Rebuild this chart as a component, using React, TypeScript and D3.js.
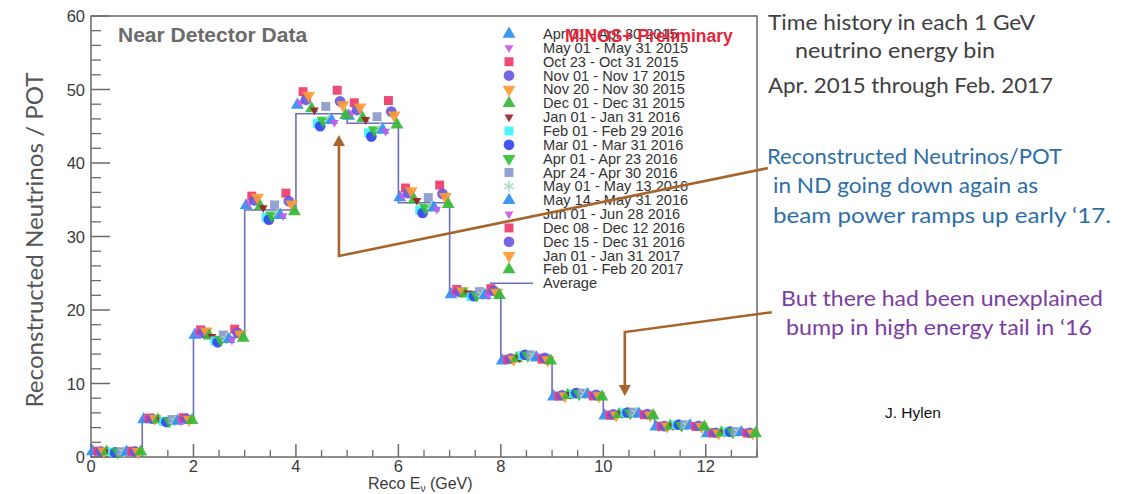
import React from "react";
import * as d3 from "d3";

const W = 1137;
const H = 494;

// Bin lower edges (GeV), 1 GeV bins
const binLow = [0, 1, 2, 3, 4, 5, 6, 7, 8, 9, 10, 11, 12];
const average = [0.7, 5.0, 16.3, 33.6, 46.7, 45.4, 34.6, 22.2, 13.4, 8.4, 5.8, 4.2, 3.3];

const periods = [
  "Apr 01 - Apr 30 2015",
  "May 01 - May 31 2015",
  "Oct 23 - Oct 31 2015",
  "Nov 01 - Nov 17 2015",
  "Nov 20 - Nov 30 2015",
  "Dec 01 - Dec 31 2015",
  "Jan 01 - Jan 31 2016",
  "Feb 01 - Feb 29 2016",
  "Mar 01 - Mar 31 2016",
  "Apr 01 - Apr 23 2016",
  "Apr 24 - Apr 30 2016",
  "May 01 - May 13 2016",
  "May 14 - May 31 2016",
  "Jun 01 - Jun 28 2016",
  "Dec 08 - Dec 12 2016",
  "Dec 15 - Dec 31 2016",
  "Jan 01 - Jan 31 2017",
  "Feb 01 - Feb 20 2017",
];

const colors = [
  "#2f8ff0", "#c45ae8", "#ee3a6a", "#6a58dc", "#ff9a33", "#35b835",
  "#9c1f2a", "#3ef2f5", "#3447ee", "#33c236", "#8a9acb", "#a8d8c8",
  "#2f8ff0", "#c45ae8", "#ee3a6a", "#6a58dc", "#ff9a33", "#35b835",
];

const shapes = [
  "up", "downSmall", "square", "circle", "down", "up",
  "downSmall", "square", "circle", "down", "square", "star",
  "up", "downSmall", "square", "circle", "down", "up",
];

const s0 = [0.75, 5.1, 16.6, 34.2, 47.9, 46.4, 35.3, 22.1, 13.1, 8.2, 5.6, 4.1, 3.2];
const s1 = [0.72, 5.2, 16.8, 34.5, 48.2, 46.8, 35.5, 22.3, 13.2, 8.3, 5.7, 4.1, 3.2];
const s2 = [0.8, 5.3, 17.3, 35.5, 49.7, 48.2, 36.6, 22.8, 13.3, 8.3, 5.7, 4.2, 3.3];
const s3 = [0.74, 5.2, 17.0, 34.9, 48.6, 47.2, 35.9, 22.5, 13.4, 8.4, 5.8, 4.2, 3.3];
const s4 = [0.78, 5.25, 17.1, 35.3, 49.2, 47.6, 36.2, 22.6, 13.3, 8.3, 5.7, 4.2, 3.25];
const s5 = [0.7, 5.05, 16.5, 34.1, 47.4, 46.1, 35.0, 22.2, 13.4, 8.4, 5.8, 4.2, 3.3];
const s6 = [0.7, 5.05, 16.4, 33.9, 47.2, 45.9, 34.9, 22.3, 13.5, 8.5, 5.9, 4.25, 3.35];
const s7 = [0.66, 4.85, 15.8, 32.6, 45.4, 44.1, 33.6, 21.8, 13.8, 8.6, 6.0, 4.35, 3.4];
const s8 = [0.62, 4.75, 15.6, 32.3, 45.0, 43.6, 33.2, 21.9, 13.9, 8.7, 6.05, 4.4, 3.45];
const s9 = [0.68, 4.9, 16.0, 32.9, 45.8, 44.5, 33.9, 22.0, 13.8, 8.6, 6.0, 4.3, 3.4];
const s10 = [0.72, 5.1, 16.6, 34.3, 47.7, 46.3, 35.3, 22.5, 13.9, 8.7, 6.1, 4.4, 3.45];
const s11 = [0.69, 4.92, 16.1, 33.1, 46.0, 44.7, 34.1, 22.1, 13.8, 8.6, 6.0, 4.3, 3.4];
const s12 = [0.68, 4.9, 16.0, 32.9, 45.8, 44.5, 33.9, 22.0, 13.5, 8.5, 5.85, 4.25, 3.35];
const s13 = [0.67, 4.88, 15.9, 32.8, 45.5, 44.3, 33.7, 22.0, 13.7, 8.55, 5.9, 4.3, 3.35];
const s14 = [0.8, 5.35, 17.4, 35.9, 49.9, 48.5, 37.0, 22.9, 13.3, 8.3, 5.75, 4.15, 3.25];
const s15 = [0.74, 5.2, 16.9, 34.8, 48.4, 47.0, 35.8, 22.6, 13.5, 8.45, 5.85, 4.25, 3.3];
const s16 = [0.72, 5.1, 16.7, 34.4, 47.9, 46.5, 35.4, 22.4, 13.2, 8.3, 5.7, 4.15, 3.25];
const s17 = [0.7, 4.98, 16.2, 33.4, 46.5, 45.2, 34.4, 22.0, 13.1, 8.2, 5.65, 4.1, 3.2];
const seriesValues = [s0, s1, s2, s3, s4, s5, s6, s7, s8, s9, s10, s11, s12, s13, s14, s15, s16, s17];

const xTicksMajor = [0, 2, 4, 6, 8, 10, 12];
const yTicksMajor = [0, 10, 20, 30, 40, 50, 60];

const x = d3.scaleLinear().domain([0, 13]).range([91, 757]);
const y = d3.scaleLinear().domain([0, 60]).range([457, 16]);

function markerPath(shape: string): string {
  const sym = d3.symbol();
  switch (shape) {
    case "up":
    case "down":
      return sym.type(d3.symbolTriangle).size(72)() as string;
    case "downSmall":
      return sym.type(d3.symbolTriangle).size(34)() as string;
    case "square":
      return sym.type(d3.symbolSquare).size(80)() as string;
    case "circle":
      return sym.type(d3.symbolCircle).size(90)() as string;
    case "star":
      return sym.type((d3 as any).symbolAsterisk || d3.symbolCross).size(80)() as string;
    default:
      return sym.type(d3.symbolCircle).size(60)() as string;
  }
}

function Marker({ shape, color, cx, cy }: { shape: string; color: string; cx: number; cy: number }) {
  const rot = shape === "down" || shape === "downSmall" ? 180 : 0;
  const isStar = shape === "star";
  return (
    <path
      d={markerPath(shape)}
      transform={`translate(${cx},${cy}) rotate(${rot})`}
      fill={isStar ? "none" : color}
      stroke={isStar ? color : "none"}
      strokeWidth={isStar ? 1.6 : 0}
      opacity={0.92}
    />
  );
}

export default function App() {
  const nS = seriesValues.length;
  const stepPts: [number, number][] = [];
  binLow.forEach((b, i) => {
    stepPts.push([x(b), y(average[i])]);
    stepPts.push([x(b + 1), y(average[i])]);
  });
  const avgLine = d3.line()(stepPts) as string;

  const yMinor = d3.range(0, 61, 2).filter((v) => v % 10 !== 0);
  const xMinor = d3.range(0, 13.01, 0.5).filter((v) => v % 2 !== 0);

  const brown = "#a8652b";
  const arial = "'Liberation Sans', Arial, Helvetica, sans-serif";
  const cal = "Lato, 'Open Sans', sans-serif";

  const a1x = x(4.84), a1tip = y(43.8), a1c = y(27.35), a1ex = x(13.21), a1ey = y(39.3);
  const a2x = x(10.42), a2tip = y(8.3), a2c = y(17.0), a2ex = x(13.29), a2ey = y(19.7);

  const legX = 509;
  const legTextX = 543;
  const legY0 = 34;
  const legDy = 13.85;

  const notes = [
    { t: "Time history in each 1 GeV", x: 768, y: 30, w: 267, c: "#404040" },
    { t: "neutrino energy bin", x: 795, y: 58, w: 200, c: "#404040" },
    { t: "Apr. 2015 through Feb. 2017", x: 768, y: 93, w: 285, c: "#404040" },
    { t: "Reconstructed Neutrinos/POT", x: 767, y: 164, w: 295, c: "#2d6ea6" },
    { t: "in ND going down again as", x: 773, y: 193, w: 265, c: "#2d6ea6" },
    { t: "beam power ramps up early ‘17.", x: 773, y: 223, w: 338, c: "#2d6ea6" },
    { t: "But there had been unexplained", x: 781, y: 306, w: 322, c: "#7a3ea3" },
    { t: "bump in high energy tail in ‘16", x: 786, y: 335, w: 306, c: "#7a3ea3" },
  ];

  return (
    <svg width={W} height={H} style={{ position: "absolute", left: 0, top: 0, background: "#fff" }}>
      <rect width={W} height={H} fill="#fff" />

      {/* frame */}
      <rect x={x(0)} y={y(60)} width={x(13) - x(0)} height={y(0) - y(60)} fill="none" stroke="#6a6a6a" strokeWidth={1.5} />

      {/* y ticks */}
      {yTicksMajor.map((v) => (
        <g key={`ym${v}`}>
          <line x1={x(0)} x2={x(0) + 19} y1={y(v)} y2={y(v)} stroke="#6a6a6a" strokeWidth={1.5} />
          <text x={85} y={y(v) + 6} textAnchor="end" fontFamily={arial} fontSize={16.5} fill="#3a3a3a">{v}</text>
        </g>
      ))}
      {yMinor.map((v) => (
        <line key={`yn${v}`} x1={x(0)} x2={x(0) + 10} y1={y(v)} y2={y(v)} stroke="#6a6a6a" strokeWidth={1.3} />
      ))}

      {/* x ticks */}
      {xTicksMajor.map((v) => (
        <g key={`xm${v}`}>
          <line x1={x(v)} x2={x(v)} y1={y(0)} y2={y(0) - 13} stroke="#6a6a6a" strokeWidth={1.5} />
          <text x={x(v)} y={472} textAnchor="middle" fontFamily={arial} fontSize={16.5} fill="#3a3a3a">{v}</text>
        </g>
      ))}
      {xMinor.map((v) => (
        <line key={`xn${v}`} x1={x(v)} x2={x(v)} y1={y(0)} y2={y(0) - 7} stroke="#6a6a6a" strokeWidth={1.3} />
      ))}

      {/* axis titles */}
      <text x={368} y={489} fontFamily={arial} fontSize={16} fill="#3a3a3a">
        Reco E<tspan dy={3} fontSize={10}>ν</tspan><tspan dy={-3}> (GeV)</tspan>
      </text>
      <text
        transform={`translate(43,240) rotate(-90)`}
        textAnchor="middle"
        fontFamily={cal}
        fontSize={23}
        fill="#555"
        textLength={335}
        lengthAdjust="spacingAndGlyphs"
      >
        Reconstructed Neutrinos / POT
      </text>

      {/* Average histogram */}
      <path d={avgLine} fill="none" stroke="#6e6fc0" strokeWidth={1.6} />

      {/* markers */}
      {seriesValues.map((vals, si) =>
        vals.map((v, bi) => (
          <Marker
            key={`m${si}-${bi}`}
            shape={shapes[si]}
            color={colors[si]}
            cx={x(binLow[bi] + (si + 0.5) / nS)}
            cy={y(v)}
          />
        ))
      )}

      {/* in-plot labels */}
      <text x={118} y={42} fontFamily={arial} fontWeight="bold" fontSize={21} fill="#6b6b6b">Near Detector Data</text>

      {/* legend */}
      {periods.map((p, i) => (
        <g key={`lg${i}`}>
          <Marker shape={shapes[i]} color={colors[i]} cx={legX} cy={legY0 + i * legDy} />
          <text x={legTextX} y={legY0 + i * legDy + 5} fontFamily={arial} fontSize={14.6} fill="#333">{p}</text>
        </g>
      ))}
      <line x1={490} x2={533} y1={legY0 + periods.length * legDy} y2={legY0 + periods.length * legDy} stroke="#6e6fc0" strokeWidth={1.6} />
      <text x={legTextX} y={legY0 + periods.length * legDy + 5} fontFamily={arial} fontSize={14.6} fill="#333">Average</text>

      <text x={565} y={42} fontFamily={arial} fontWeight="bold" fontSize={17.5} fill="#e8243a">MINOS+ Preliminary</text>

      {/* annotation arrows */}
      <polyline points={`${a1x},${a1tip + 8} ${a1x},${a1c} ${a1ex},${a1ey}`} fill="none" stroke={brown} strokeWidth={2.6} />
      <path d={`M${a1x},${a1tip} L${a1x - 6},${a1tip + 11} L${a1x + 6},${a1tip + 11} Z`} fill={brown} />
      <polyline points={`${a2x},${a2tip - 8} ${a2x},${a2c} ${a2ex},${a2ey}`} fill="none" stroke={brown} strokeWidth={2.6} />
      <path d={`M${a2x},${a2tip} L${a2x - 6},${a2tip - 11} L${a2x + 6},${a2tip - 11} Z`} fill={brown} />

      {/* right side notes */}
      <g fontFamily={cal} fontSize={22}>
        {notes.map((n, i) => (
          <text key={`n${i}`} x={n.x} y={n.y} fill={n.c} textLength={n.w} lengthAdjust="spacingAndGlyphs">{n.t}</text>
        ))}
      </g>
      <text x={885} y={418} fontFamily={arial} fontSize={15.5} fill="#111">J. Hylen</text>
    </svg>
  );
}
